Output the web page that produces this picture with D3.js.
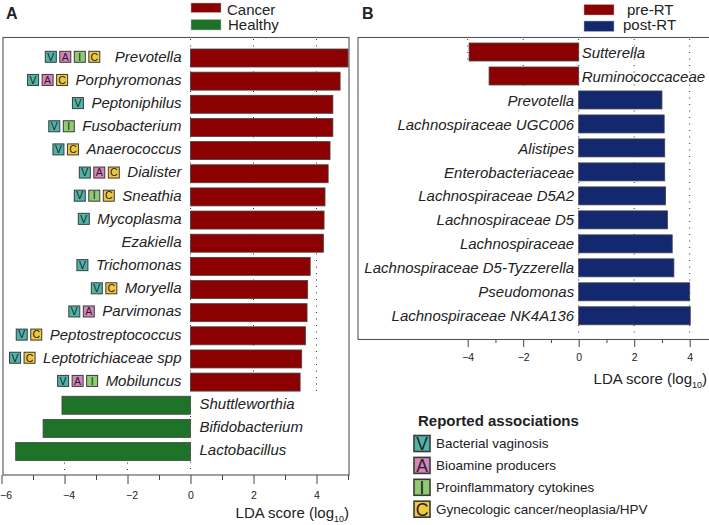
<!DOCTYPE html>
<html><head><meta charset="utf-8">
<script src="https://cdn.jsdelivr.net/npm/d3@7"></script>
<style>
html,body{margin:0;padding:0;background:#fff;overflow:hidden}
svg{display:block}
text{font-family:"Liberation Sans",Arial,sans-serif;fill:#222}
</style></head><body>
<script>
const taxaA = ["Prevotella","Porphyromonas","Peptoniphilus","Fusobacterium","Anaerococcus","Dialister","Sneathia","Mycoplasma","Ezakiella","Trichomonas","Moryella","Parvimonas","Peptostreptococcus","Leptotrichiaceae spp","Mobiluncus","Shuttleworthia","Bifidobacterium","Lactobacillus"];
const scoresA = [5.0,4.75,4.52,4.52,4.43,4.37,4.27,4.24,4.22,3.8,3.72,3.7,3.65,3.53,3.48,-4.08,-4.68,-5.55];
const assocA = ["VAIC","VAC","V","VI","VC","VAC","VIC","V","","V","VC","VA","VC","VC","VAI","","",""];
const taxaB = ["Sutterella","Ruminococcaceae","Prevotella","Lachnospiraceae UGC006","Alistipes","Enterobacteriaceae","Lachnospiraceae D5A2","Lachnospiraceae D5","Lachnospiraceae","Lachnospiraceae D5-Tyzzerella","Pseudomonas","Lachnospiraceae NK4A136"];
const scoresB = [-3.95,-3.23,3.0,3.08,3.1,3.1,3.13,3.2,3.37,3.43,4.0,4.02];
const legendA = ["Cancer","Healthy"];
const legendB = ["pre-RT","post-RT"];
const assocKeys = ["V","A","I","C"];
const assocNames = ["Bacterial vaginosis","Bioamine producers","Proinflammatory cytokines","Gynecologic cancer/neoplasia/HPV"];
const ticksMajorA = [-6,-4,-2,0,2,4];
const ticksMinorA = [-5,-3,-1,1,3,5];
const ticksMajorB = [-4,-2,0,2,4];
const ticksMinorB = [-3,-1,1,3];

const RED="#8b0000",GREEN="#1f7329",NAVY="#14286f";
const badgeColor={V:"#4fb5aa",A:"#d983bb",I:"#8fcb72",C:"#f1c73f"};
const W=709,H=525;
const svg=d3.select("body").append("svg").attr("width",W).attr("height",H);

function axisLabel(x,y){
  const t=svg.append("text").attr("x",x).attr("y",y).attr("text-anchor","end").attr("font-size",15);
  t.append("tspan").text("LDA score (log");
  t.append("tspan").text("10").attr("font-size",9).attr("dy",3.5);
  t.append("tspan").text(")").attr("dy",-3.5);
}
function panel(o){
  const x=d3.scaleLinear().domain([0,1]).range([o.x0,o.x0+o.unit]);
  const n=o.taxa.length;
  const y=d3.scaleBand().domain(o.taxa).range([o.barTop,o.barTop+o.step*(n-1)+o.barH]).paddingInner(1-o.barH/o.step).paddingOuter(0).align(0);
  const score=d=>o.scores[o.taxa.indexOf(d)];
  const g=svg.append("g");
  g.append("rect").attr("x",o.left).attr("y",o.top).attr("width",o.right-o.left).attr("height",o.bottom-o.top)
    .attr("fill","#fff").attr("stroke","#555").attr("stroke-width",1.1);
  g.selectAll("line.grid").data(o.gridSpans(y)).join("line").attr("class","grid")
    .attr("x1",d=>x(d.t)).attr("x2",d=>x(d.t)).attr("y1",d=>d.a).attr("y2",d=>d.b)
    .attr("stroke","#333").attr("stroke-width",1).attr("stroke-dasharray","1 5.5");
  g.selectAll("rect.bar").data(o.taxa).join("rect").attr("class","bar")
    .attr("x",d=>Math.min(x(0),x(score(d))))
    .attr("width",d=>Math.abs(x(score(d))-x(0)))
    .attr("y",d=>y(d)).attr("height",y.bandwidth())
    .attr("fill",d=>score(d)>0?o.posColor:o.negColor)
    .attr("stroke","#444").attr("stroke-width",.8);
  const lab=g.selectAll("text.tax").data(o.taxa).join("text").attr("class","tax")
    .attr("font-size",15).attr("font-style","italic")
    .attr("y",d=>y(d)+y.bandwidth()/2+o.base)
    .attr("x",d=>score(d)>0?x(0)-o.labelGap:x(0)+o.labelGapR)
    .attr("text-anchor",d=>score(d)>0?"end":"start")
    .text(d=>d);
  const ax=d3.axisBottom(x).tickValues(o.major).tickSize(o.tick).tickPadding(o.pad).tickFormat(d3.format("d"));
  const ag=svg.append("g").attr("transform",`translate(0,${o.bottom})`).call(ax);
  ag.select(".domain").remove();
  ag.selectAll("line").attr("stroke","#444");
  ag.selectAll("text").attr("font-size",10.5).attr("fill","#222").attr("dx",d=>d<0?o.negShift:0);
  const ag2=svg.append("g").attr("transform",`translate(0,${o.bottom})`).call(d3.axisBottom(x).tickValues(o.minor).tickSize(o.tickMinor).tickFormat(""));
  ag2.select(".domain").remove();
  ag2.selectAll("line").attr("stroke","#444");
  return {x,y,lab};
}
const A=panel({left:3,right:349,top:37.5,bottom:475,x0:190.5,unit:31.5,taxa:taxaA,scores:scoresA,barTop:49,step:23.15,barH:18,
  major:ticksMajorA,minor:ticksMinorA,posColor:RED,negColor:GREEN,labelGap:9,labelGapR:9,base:3.7,tick:9,tickMinor:5,pad:8,negShift:4,
  gridSpans:y=>{
    const low=y("Mobiluncus")+18, last=y("Lactobacillus")+18;
    return [{t:0,a:39,b:473},{t:2,a:39,b:low},{t:4,a:39,b:low},{t:-2,a:last+2,b:473},{t:-4,a:last+2,b:473}];
  }});
const B=panel({left:358,right:712,top:37.5,bottom:339.5,x0:578.7,unit:27.75,taxa:taxaB,scores:scoresB,barTop:43,step:23.98,barH:18,
  major:ticksMajorB,minor:ticksMinorB,posColor:NAVY,negColor:RED,labelGap:4.5,labelGapR:3,base:5.6,tick:7.5,tickMinor:3.5,pad:6.5,negShift:0,
  gridSpans:y=>{
    const rum=y("Ruminococcaceae")+18;
    return [{t:0,a:39,b:338},{t:2,a:39,b:338},{t:4,a:39,b:338},{t:-2,a:39,b:rum+3},{t:-4,a:39,b:rum-20}];
  }});

function badge(sel,bx,by,s,k,fs,sw){
  sel.append("rect").attr("x",bx).attr("y",by).attr("width",s).attr("height",s)
    .attr("fill",badgeColor[k]).attr("stroke","#3a3a3a").attr("stroke-width",sw);
  sel.append("text").attr("x",bx+s/2).attr("y",by+s/2+fs*0.36).attr("text-anchor","middle").attr("font-size",fs).text(k);
}
const bg=svg.append("g");
A.lab.each(function(d,i){
  const keys=assocA[i]; if(!keys)return;
  const w=this.getComputedTextLength();
  const end=A.x(0)-9-w-(d==="Prevotella"?15:8);
  const by=A.y(d)+A.y.bandwidth()/2-6.7;
  keys.split("").forEach((k,j)=>badge(bg,end-(keys.length-j)*14.5+3.5,by,11,k,10.5,1));
});
function topLegend(labels,colors,rx,ys,hs,tx,ty){
  labels.forEach((l,i)=>{
    svg.append("rect").attr("x",rx).attr("y",ys[i]).attr("width",30).attr("height",hs[i]).attr("fill",colors[i]).attr("stroke","#bbb").attr("stroke-width",.5);
    svg.append("text").attr("x",tx[i]).attr("y",ty[i]).attr("font-size",15).text(l);
  });
}
topLegend(legendA,[RED,GREEN],191,[3,19.5],[9.5,10.5],[227,228],[14.5,30]);
topLegend(legendB,[RED,NAVY],584,[4.5,21],[10.5,10.5],[627,623],[14.5,30]);
svg.append("text").attr("x",6).attr("y",19).attr("font-size",16).attr("font-weight","bold").text("A");
svg.append("text").attr("x",362).attr("y",19).attr("font-size",16).attr("font-weight","bold").text("B");
axisLabel(349,518);
axisLabel(707,384);
svg.append("text").attr("x",418).attr("y",426).attr("font-size",15).attr("font-weight","bold").text("Reported associations");
assocKeys.forEach((k,i)=>{
  const yy=435.5+i*21.9;
  badge(svg,414,yy,16,k,17.5,1.6);
  svg.append("text").attr("x",436).attr("y",yy+12.7).attr("font-size",13.5).text(assocNames[i]);
});
</script>
</body></html>
